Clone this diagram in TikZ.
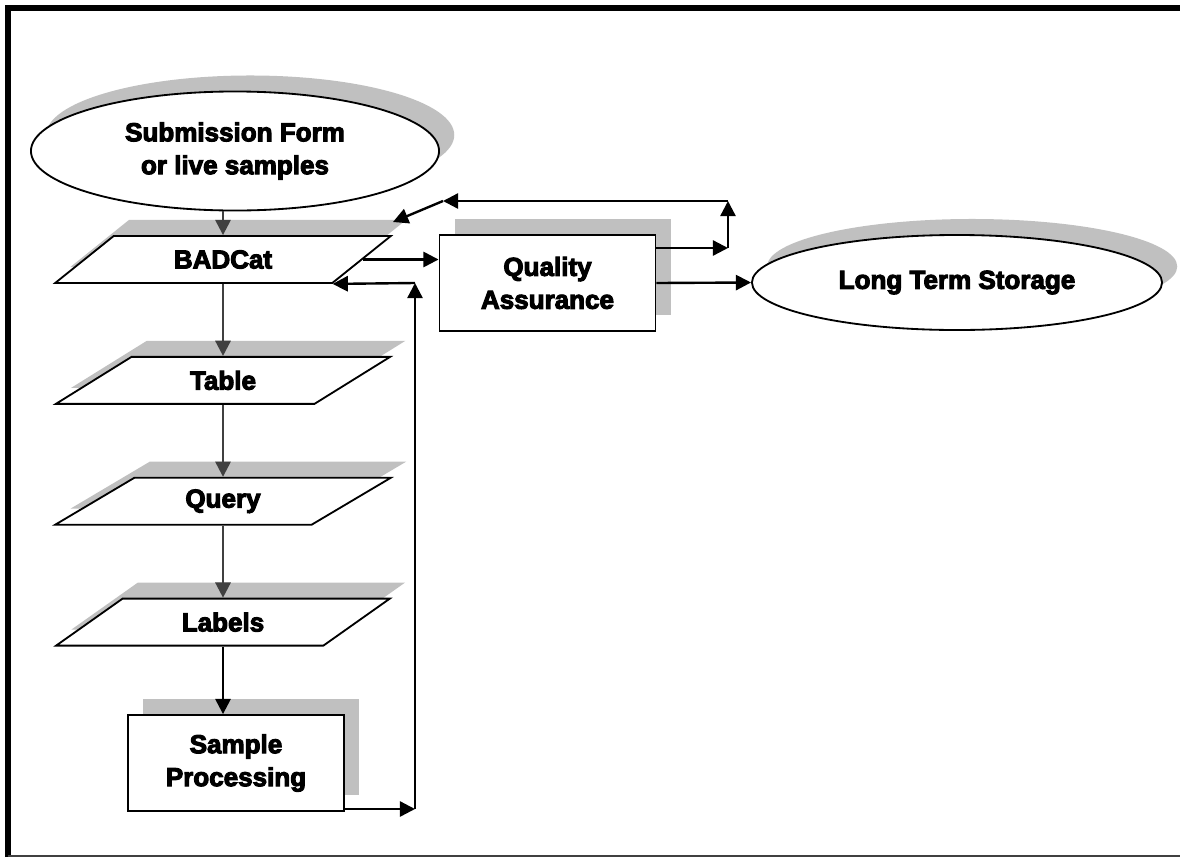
\documentclass[tikz,border=0pt]{standalone}
\usepackage{fontspec}
\setmainfont{Liberation Sans}[BoldFeatures={FakeBold=4}]
\usetikzlibrary{shapes.geometric, arrows.meta, positioning, shadows}
\definecolor{shadowgray}{RGB}{192,192,192}
\definecolor{linegray}{RGB}{64,64,64}
\tikzset{
    basenode/.style={draw=black, line width=1.3pt, fill=white, align=center, font=\fontsize{18.5}{23.4}\selectfont\bfseries, general shadow={fill=shadowgray, shadow xshift=0.38cm, shadow yshift=0.4cm}},
    termnode/.style={basenode, ellipse, inner sep=0pt},
    datanode/.style={basenode, trapezium, trapezium left angle=35, trapezium right angle=145, trapezium stretches, minimum width=8.4cm, minimum height=1.175cm, inner sep=0pt},
    procnode/.style={basenode, rectangle, minimum width=5.4cm, minimum height=2.4cm, inner sep=0pt},
    arrow/.style={-{Triangle[length=3.8mm,width=3.8mm]}, line width=1.7pt, black},
    grayarrow/.style={arrow, linegray},
}
\begin{document}
\begin{tikzpicture}[x=0.025cm, y=-0.025cm]
\useasboundingbox (0,0) rectangle (1180,857);
% frame
\draw[line width=4.3pt] (8,857) -- (8,8) -- (1180,8);
\draw[linegray, line width=0.8pt] (8,856) -- (1180,856);

\node[termnode, minimum width=10.2cm, minimum height=2.975cm] (subm) at (235,151) {Submission Form\\or live samples};
\node[datanode] (badcat) at (223,259.5) {BADCat};
\node[datanode, below=1.8cm of badcat] (table) {Table};
\node[datanode, below=1.8cm of table] (query) {Query};
\node[datanode, below=1.8cm of query] (labels) {Labels};
\node[procnode] (sample) at (236,763) {Sample\\Processing};
\node[procnode] (qa) at (547.5,283) {Quality\\Assurance};
\node[termnode, minimum width=10.25cm, minimum height=2.375cm] (lts) at (957,282.5) {Long Term Storage};

% main chain
\draw[grayarrow] (subm.south -| badcat.north) -- (badcat.north);
\draw[grayarrow] (badcat.south) -- (table.north);
\draw[grayarrow] (table.south) -- (query.north);
\draw[grayarrow] (query.south) -- (labels.north);
\draw[arrow] (labels.south) -- (labels.south |- sample.north);

% return from sample processing
\coordinate (retlow) at (415,809);
\coordinate (rethigh) at (415,283);
\draw[arrow] (sample.east |- retlow) -- (retlow);
\draw[arrow] (retlow) -- (rethigh);
\draw[arrow] (rethigh) -- (badcat.bottom right corner);

% quality assurance
\draw[arrow] (badcat.east) -- (badcat.east -| qa.west);
\draw[arrow] (qa.east) -- (lts.west);
\coordinate (qaout) at (728,248);
\coordinate (qaup) at (728,201);
\coordinate (qaback) at (443,201);
\coordinate (qain) at (393,222);
\draw[arrow] (qa.east |- qaout) -- (qaout);
\draw[arrow] (qaout) -- (qaup);
\draw[arrow] (qaup) -- (qaback);
\draw[arrow] (qaback) -- (qain);
\end{tikzpicture}
\end{document}
